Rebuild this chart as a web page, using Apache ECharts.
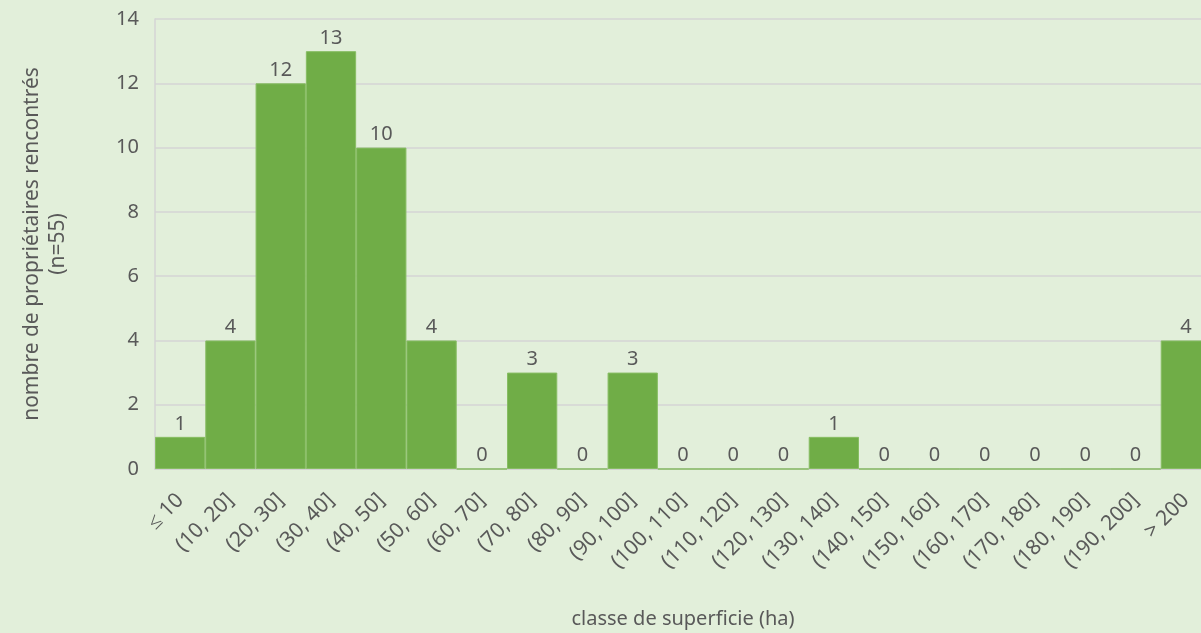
<!DOCTYPE html>
<html><head><meta charset="utf-8">
<script src="https://cdn.jsdelivr.net/npm/echarts@6/dist/echarts.min.js"></script>
<style>html,body{margin:0;padding:0;background:#e2efda}#c{width:1201px;height:633px}</style>
</head><body><div id="c"></div>
<script>
const categories = ['≤ 10','(10, 20]','(20, 30]','(30, 40]','(40, 50]','(50, 60]','(60, 70]','(70, 80]','(80, 90]','(90, 100]','(100, 110]','(110, 120]','(120, 130]','(130, 140]','(140, 150]','(150, 160]','(160, 170]','(170, 180]','(180, 190]','(190, 200]','> 200'];
const counts = [1,4,12,13,10,4,0,3,0,3,0,0,0,1,0,0,0,0,0,0,4];
const yTitle = 'nombre de propriétaires rencontrés\n(n=55)';
const xTitle = 'classe de superficie (ha)';
const font = 'Noto Sans';
const txt = '#595959';
const chart = echarts.init(document.getElementById('c'));
chart.setOption({
  backgroundColor: '#e2efda',
  animation: false,
  grid: {left: 155, top: 19, bottom: 164, right: -10, outerBoundsMode: 'none', containLabel: false},
  xAxis: {
    type: 'category', data: categories,
    axisLine: {lineStyle: {color: '#d0d0d0', width: 1.5}},
    axisTick: {show: false},
    axisLabel: {rotate: 45, color: txt, fontSize: 21, fontFamily: font, interval: 0, margin: 28},
    name: xTitle, nameLocation: 'middle', nameGap: 140,
    nameTextStyle: {color: txt, fontSize: 20, fontFamily: font}
  },
  yAxis: {
    type: 'value', min: 0, max: 14, interval: 2,
    axisLine: {show: true, lineStyle: {color: '#d4d4d4', width: 1.5}},
    axisTick: {show: false},
    splitLine: {lineStyle: {color: '#d4d4d4', width: 1.5}},
    axisLabel: {color: txt, fontSize: 20, fontFamily: font, margin: 16},
    name: yTitle, nameLocation: 'middle', nameGap: 84, nameRotate: 90,
    nameTextStyle: {color: txt, fontSize: 21, fontFamily: font, lineHeight: 26}
  },
  series: [{
    type: 'bar', data: counts, barCategoryGap: '0%',
    itemStyle: {color: '#70ad47', borderColor: '#87bd63', borderWidth: 1},
    label: {show: true, position: 'top', color: txt, fontSize: 20, fontFamily: font, distance: 3}
  }]
});
</script></body></html>
